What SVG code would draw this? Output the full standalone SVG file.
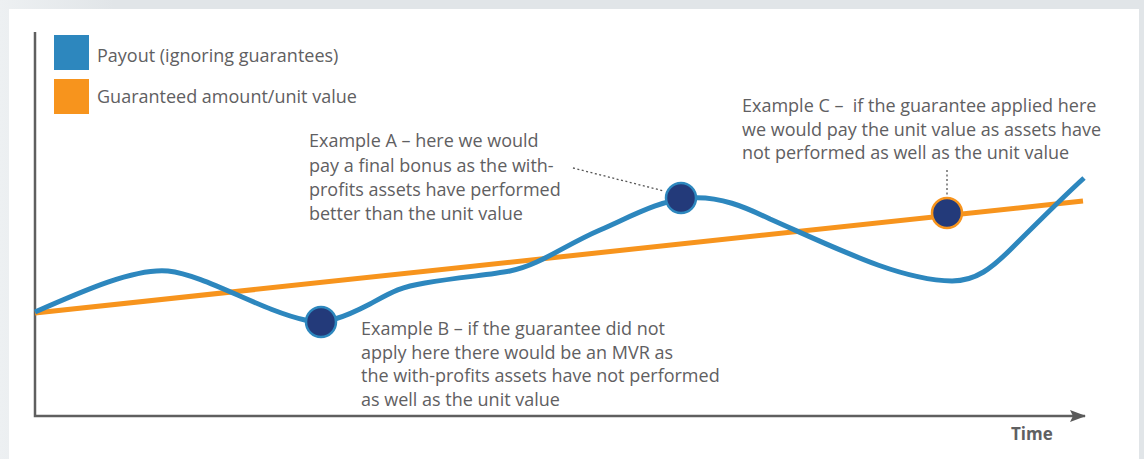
<svg xmlns="http://www.w3.org/2000/svg" width="1144" height="459" viewBox="0 0 1144 459">
  <defs>
    <linearGradient id="bg" x1="0" y1="0" x2="1" y2="0">
      <stop offset="0" stop-color="#edf0f2"/>
      <stop offset="0.1" stop-color="#e1e5e8"/>
      <stop offset="1" stop-color="#e1e5e8"/>
    </linearGradient>
    <marker id="arrow" viewBox="0 0 16 12" refX="15" refY="6" markerWidth="16" markerHeight="12" markerUnits="userSpaceOnUse" orient="auto">
      <path d="M0,0 L16,6 L0,12 L3,6 Z" fill="#5a5a5a"/>
    </marker>
    <style>
      .txt { font-family: "Open Sans", "Liberation Sans", sans-serif; font-size: 18px; fill: #5f6062; }
      .bold { font-weight: bold; font-size: 17px; }
      .axis { stroke: #5f5f5f; stroke-width: 2.5; fill: none; }
      .dot { stroke: #555; stroke-width: 1.3; stroke-dasharray: 2 2.5; fill: none; }
      .blue { stroke: #2d87be; stroke-width: 5; fill: none; stroke-linecap: butt; stroke-linejoin: round; }
      .orange { stroke: #f7941d; stroke-width: 5; fill: none; }
      .marker { fill: #233a7a; stroke-width: 2.5; }
    </style>
  </defs>

  <rect x="0" y="0" width="1144" height="459" fill="url(#bg)"/>
  <rect x="9" y="9" width="1130" height="450" fill="#ffffff"/>

  <g id="legend">
    <rect x="54" y="35" width="35" height="35" fill="#2d87be"/>
    <text class="txt" x="97" y="62">Payout (ignoring guarantees)</text>
    <rect x="54" y="79" width="35" height="35" fill="#f7941d"/>
    <text class="txt" x="97" y="103">Guaranteed amount/unit value</text>
  </g>

  <g id="axes">
    <path class="axis" d="M35,32 L35,416 L1085,416" marker-end="url(#arrow)"/>
    <text class="txt bold" x="1011" y="440">Time</text>
  </g>

  <g id="series">
    <path class="orange" d="M35,313 L1083,201"/>
    <path class="blue" d="M35,312 C85,290 135,268 168,271 C205,275 260,310 305,320 C325,325 345,317 370,304 C392,292 400,287 425,283 C460,277 490,275 510,271 C540,265 565,245 600,230 C630,217 660,200 690,198 C720,196 745,207 770,219 C840,250 900,280 952,281 C976,281 992,268 1012,248 C1040,220 1062,198 1084,178"/>
  </g>

  <g id="connectors">
    <path class="dot" d="M573,168 L664,191"/>
    <path class="dot" d="M947,170 L947,196"/>
  </g>

  <g id="pointA">
    <circle class="marker" cx="681" cy="198" r="15" stroke="#2d87be"/>
  </g>
  <g id="pointB">
    <circle class="marker" cx="321" cy="322" r="15" stroke="#2d87be"/>
  </g>
  <g id="pointC">
    <circle class="marker" cx="947" cy="213" r="15" stroke="#f7941d"/>
  </g>

  <g id="labelA">
    <text class="txt" x="309" y="147">Example A – here we would</text>
    <text class="txt" x="309" y="171.5">pay a final bonus as the with-</text>
    <text class="txt" x="309" y="196">profits assets have performed</text>
    <text class="txt" x="309" y="220">better than the unit value</text>
  </g>

  <g id="labelB">
    <text class="txt" x="361" y="335">Example B – if the guarantee did not</text>
    <text class="txt" x="361" y="358.5">apply here there would be an MVR as</text>
    <text class="txt" x="361" y="382">the with-profits assets have not performed</text>
    <text class="txt" x="361" y="406">as well as the unit value</text>
  </g>

  <g id="labelC">
    <text class="txt" x="742" y="112">Example C –&#160; if the guarantee applied here</text>
    <text class="txt" x="742" y="136">we would pay the unit value as assets have</text>
    <text class="txt" x="742" y="159">not performed as well as the unit value</text>
  </g>
</svg>
